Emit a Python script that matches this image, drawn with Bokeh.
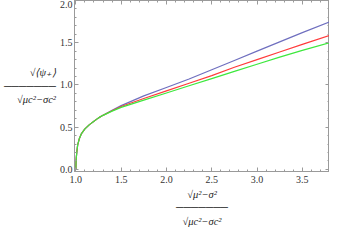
from bokeh.plotting import figure
from bokeh.models import Range1d, LinearAxis, FixedTicker, PrintfTickFormatter
from bokeh.embed import file_html
from bokeh.resources import INLINE

# shared low-x part (all three curves overlap)
x_common = [1.0, 1.002, 1.005, 1.01, 1.02, 1.04, 1.06, 1.08, 1.1, 1.15, 1.2, 1.25, 1.3]
y_common = [0.0, 0.08, 0.14, 0.2, 0.29, 0.37, 0.42, 0.45, 0.48, 0.53, 0.57, 0.61, 0.64]

x_tail = [1.4, 1.5, 1.75, 2.0, 2.25, 2.5, 2.75, 3.0, 3.25, 3.5, 3.8]
blue_tail = [0.70, 0.755, 0.87, 0.97, 1.07, 1.18, 1.29, 1.40, 1.51, 1.62, 1.745]
red_tail = [0.695, 0.745, 0.84, 0.93, 1.02, 1.11, 1.21, 1.30, 1.39, 1.48, 1.585]
green_tail = [0.69, 0.735, 0.82, 0.905, 0.99, 1.075, 1.16, 1.245, 1.33, 1.41, 1.50]

x_major = [1.0, 1.5, 2.0, 2.5, 3.0, 3.5]
y_major = [0.0, 0.5, 1.0, 1.5, 2.0]
x_minor = [round(1.0 + 0.1 * i, 2) for i in range(29)]
y_minor = [round(0.1 * i, 2) for i in range(21)]

BAR = "─" * 7
y_title = "√⟨ψ₊⟩\n" + BAR + "\n√μc²−σc²"
x_title = "√μ²−σ²\n" + BAR + "\n√μc²−σc²"

FONT = "Liberation Serif"
FRAME = "#9a9a9a"

p = figure(width=329, height=230, output_backend="svg", toolbar_location=None,
           x_range=Range1d(0.985, 3.8), y_range=Range1d(-0.025, 2.0),
           min_border_left=10, min_border_right=0, min_border_top=0, min_border_bottom=10,
           x_axis_location=None, y_axis_location=None)
p.grid.visible = False
p.outline_line_color = FRAME
p.background_fill_color = "white"
p.border_fill_color = "white"

xs = x_common + x_tail
p.line(xs, y_common + blue_tail, line_color="#6f6fbf", line_width=1.2)
p.line(xs, y_common + red_tail, line_color="#ff3b3b", line_width=1.2)
p.line(xs, y_common + green_tail, line_color="#3de83d", line_width=1.2)


def style_axis(ax):
    ax.axis_line_color = FRAME
    ax.major_tick_line_color = FRAME
    ax.minor_tick_line_color = FRAME
    ax.major_tick_in = 4
    ax.major_tick_out = 0
    ax.minor_tick_in = 2
    ax.minor_tick_out = 0
    ax.major_label_text_font = FONT
    ax.major_label_text_font_size = "10px"
    ax.major_label_text_color = "#333333"
    ax.formatter = PrintfTickFormatter(format="%.1f")
    ax.axis_label_text_font = FONT
    ax.axis_label_text_font_size = "10.5px"
    ax.axis_label_text_font_style = "italic"
    ax.axis_label_text_color = "#222222"
    ax.axis_label_text_line_height = 1.25


for loc, labels in (("below", True), ("above", False)):
    ax = LinearAxis(ticker=FixedTicker(ticks=x_major, minor_ticks=x_minor))
    style_axis(ax)
    ax.major_label_standoff = 4
    if labels:
        ax.axis_label = x_title
        ax.axis_label_standoff = 3
    else:
        ax.major_label_overrides = {t: "" for t in x_major}
        ax.major_label_standoff = 0
    p.add_layout(ax, loc)

for loc, labels in (("left", True), ("right", False)):
    ax = LinearAxis(ticker=FixedTicker(ticks=y_major, minor_ticks=y_minor))
    style_axis(ax)
    ax.major_label_standoff = 2
    if labels:
        ax.axis_label = y_title
        ax.axis_label_orientation = "horizontal"
        ax.axis_label_standoff = 1
    else:
        ax.major_label_overrides = {t: "" for t in y_major}
        ax.major_label_standoff = 0
    p.add_layout(ax, loc)

open("out.html", "w").write(file_html(p, INLINE))
